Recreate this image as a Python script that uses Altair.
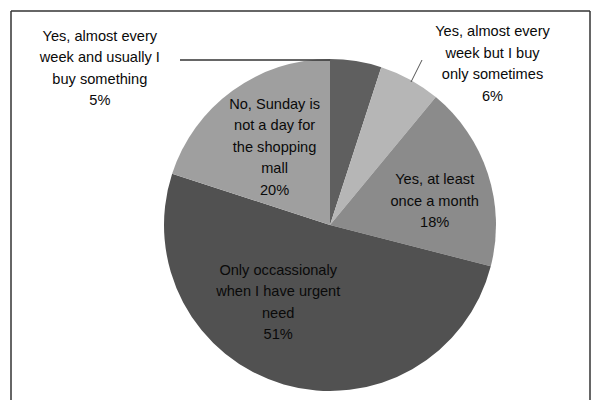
import altair as alt
import pandas as pd

categories = [
    "Yes, almost every\nweek and usually I\nbuy something",
    "Yes, almost every\nweek but I buy\nonly sometimes",
    "Yes, at least\nonce a month",
    "Only occassionaly\nwhen I have urgent\nneed",
    "No, Sunday is\nnot a day for\nthe shopping\nmall",
]
shares = [5, 6, 18, 51, 20]
colors = ["#5f5f5f", "#b6b6b6", "#8b8b8b", "#515151", "#9f9f9f"]

df = pd.DataFrame({
    "cat": categories,
    "share": shares,
    "idx": list(range(len(shares))),
})

CX, CY, R = 330, 225, 166
LH = 21.5

base = alt.Chart(df).transform_window(
    cum="sum(share)", sort=[alt.SortField("idx")]
).transform_joinaggregate(
    total="sum(share)"
).transform_calculate(
    mid="(datum.cum - datum.share/2) / datum.total * 2 * PI",
    lbl="datum.cat + '\\n' + datum.share + '%'",
)

pie = alt.Chart(df).mark_arc(outerRadius=R, stroke=None).encode(
    theta=alt.Theta("share:Q", stack=True),
    order=alt.Order("idx:Q"),
    color=alt.Color("cat:N", scale=alt.Scale(domain=categories, range=colors), legend=None),
    x=alt.value(CX),
    y=alt.value(CY),
)

# label placement: (category index, radius, dx, dy of block centre)
placements = [
    (0, 165, -256, 7),
    (1, 165, 83, -16),
    (2, 108, 2, 10),
    (3, 96, -25, -14),
    (4, 96, 1, 0.5),
]

text_layers = []
for i, r, dx, dy in placements:
    nlines = categories[i].count("\n") + 2
    t = base.transform_filter(f"datum.idx == {i}").mark_text(
        lineBreak="\n", font="Liberation Sans", fontSize=14.6, lineHeight=LH,
        color="#0a0a0a", align="center", baseline="middle", dx=dx,
        dy=dy - (nlines - 1) * LH / 2,
    ).encode(
        theta=alt.Theta("mid:Q", scale=None),
        radius=alt.value(r),
        text="lbl:N",
        x=alt.value(CX),
        y=alt.value(CY),
    )
    text_layers.append(t)

leader1 = alt.Chart(df).transform_filter("datum.idx == 0").mark_rule(
    color="#333333", strokeWidth=1.5
).encode(x=alt.value(180), x2=alt.value(CX), y=alt.value(60))
leader2 = alt.Chart(df).transform_filter("datum.idx == 1").mark_rule(
    color="#555555", strokeWidth=1
).encode(x=alt.value(411), x2=alt.value(422), y=alt.value(82), y2=alt.value(60))

frame_left = alt.Chart(df).transform_filter("datum.idx == 0").mark_rule(
    color="#333333", strokeWidth=1.5
).encode(x=alt.value(11), y=alt.value(11), y2=alt.value(400))
frame_top = alt.Chart(df).transform_filter("datum.idx == 0").mark_rule(
    color="#333333", strokeWidth=1.5
).encode(x=alt.value(11), x2=alt.value(590), y=alt.value(11))
frame_right = alt.Chart(df).transform_filter("datum.idx == 0").mark_rule(
    color="#333333", strokeWidth=1.5
).encode(x=alt.value(590), y=alt.value(11), y2=alt.value(400))

chart = alt.layer(
    pie, leader1, leader2, *text_layers, frame_left, frame_top, frame_right
).properties(
    width=593, height=400, autosize="none", padding=0, background="white"
).configure_view(stroke=None)

chart.save("out.html", embed_options={"renderer": "svg", "actions": False})
